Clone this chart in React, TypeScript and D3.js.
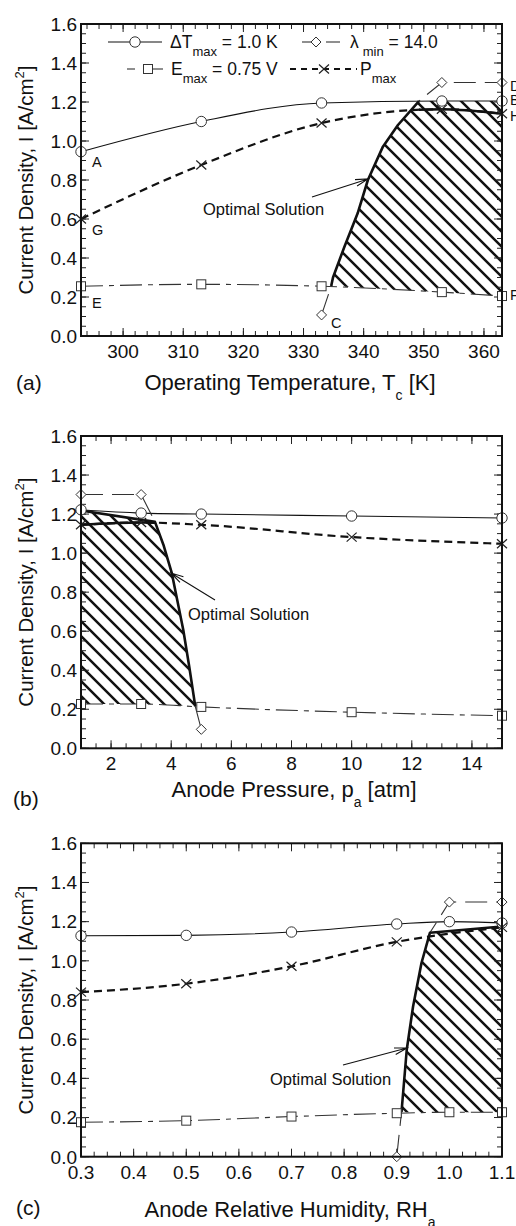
import * as d3 from "d3";

type Pt = [number, number];
const pts = (xs: number[], ys: number[]): Pt[] => xs.map((x, i) => [x, ys[i]] as Pt);

// (a) operating temperature sweep [K]
const tempK = [293, 313, 333, 353, 363];
const aDeltaT = [0.945, 1.1, 1.195, 1.205, 1.205];
const aEmax = [0.255, 0.265, 0.255, 0.225, 0.205];
const aPmax = [0.6, 0.877, 1.092, 1.163, 1.14];
const aLambdaX = [333, 353, 363];
const aLambda = [0.108, 1.3, 1.3];
const aBoundary: Pt[] = [
  [334.6, 0.256], [334.9, 0.3], [336.8, 0.458], [339.0, 0.629],
  [340.7, 0.8], [343.2, 0.971], [345.7, 1.082], [349.2, 1.205],
];

// (b) anode pressure sweep [atm]
const pressure = [1, 3, 5, 10, 15];
const bDeltaT = [1.222, 1.205, 1.2, 1.19, 1.18];
const bEmax = [0.227, 0.227, 0.212, 0.185, 0.167];
const bPmax = [1.145, 1.157, 1.145, 1.082, 1.048];
const bLambdaX = [1, 3, 5];
const bLambda = [1.3, 1.3, 0.097];
const bBoundary: Pt[] = [
  [1, 1.218], [3.46, 1.16], [3.74, 1.043], [4.02, 0.897],
  [4.4, 0.607], [4.6, 0.418], [4.8, 0.215],
];

// (c) anode relative humidity sweep
const humidity = [0.3, 0.5, 0.7, 0.9, 1.0, 1.1];
const cDeltaT = [1.128, 1.13, 1.147, 1.188, 1.2, 1.193];
const cEmax = [0.176, 0.184, 0.205, 0.222, 0.227, 0.227];
const cPmaxX = [0.3, 0.5, 0.7, 0.9, 1.1];
const cPmax = [0.84, 0.883, 0.972, 1.097, 1.171];
const cLambdaX = [0.9, 1.0, 1.1];
const cLambda = [0.0, 1.3, 1.3];
const cBoundary: Pt[] = [
  [0.909, 0.227], [0.919, 0.546], [0.931, 0.767], [0.947, 0.989],
  [0.963, 1.143], [1.1, 1.175],
];

const yTicks = [0, 0.2, 0.4, 0.6, 0.8, 1.0, 1.2, 1.4, 1.6];

const FONT = '"Liberation Sans", Arial, Helvetica, sans-serif';
const L = 81;
const R = 502;

interface Panel {
  id: string;
  top: number;
  bottom: number;
  xDomain: [number, number];
  major: number[];
  minor: number[];
  fmt: (v: number) => string;
  dT: Pt[];
  emax: Pt[];
  pmax: Pt[];
  lam: Pt[];
  lamPath: Pt[];
  boundary: Pt[];
  region: Pt[];
  pmaxSolid: [number, number] | null;
  arrowFrom: Pt;
  arrowTo: Pt;
  noteAt: Pt;
  label: string;
  labelAt: Pt;
  title: [string, string, string];
  titleAt: Pt;
  points: { text: string; at: Pt }[];
}

const range = (a: number, b: number, s: number) => d3.range(a, b + s / 1000, s);

const panels: Panel[] = [
  {
    id: "a",
    top: 24,
    bottom: 336,
    xDomain: [293, 363],
    major: range(300, 360, 10),
    minor: range(294, 362, 2),
    fmt: (v) => d3.format("d")(v),
    dT: pts(tempK, aDeltaT),
    emax: pts(tempK, aEmax),
    pmax: pts(tempK, aPmax),
    lam: pts(aLambdaX, aLambda),
    lamPath: [pts(aLambdaX, aLambda)[0], ...aBoundary, ...pts(aLambdaX, aLambda).slice(1)],
    boundary: aBoundary,
    region: [
      ...aBoundary,
      ...pts(tempK, aDeltaT).filter((p) => p[0] > 349.2),
      ...pts(tempK, aEmax).filter((p) => p[0] > 334.6).reverse(),
    ],
    pmaxSolid: [349.2, 363],
    arrowFrom: [312, 197],
    arrowTo: [368, 179],
    noteAt: [203, 215],
    label: "(a)",
    labelAt: [16, 390],
    title: ["Operating Temperature, T", "c", " [K]"],
    titleAt: [290, 390],
    points: [
      { text: "A", at: [92, 167] },
      { text: "G", at: [92, 235] },
      { text: "E", at: [92, 308] },
      { text: "C", at: [331, 328] },
      { text: "D", at: [510, 91] },
      { text: "B", at: [510, 105] },
      { text: "H", at: [510, 121] },
      { text: "F", at: [510, 300] },
    ],
  },
  {
    id: "b",
    top: 436,
    bottom: 748.3,
    xDomain: [1, 15],
    major: range(2, 14, 2),
    minor: range(1, 15, 0.5),
    fmt: (v) => d3.format("d")(v),
    dT: pts(pressure, bDeltaT),
    emax: pts(pressure, bEmax),
    pmax: pts(pressure, bPmax),
    lam: pts(bLambdaX, bLambda),
    lamPath: [...pts(bLambdaX, bLambda).slice(0, 2), ...bBoundary.slice(1), pts(bLambdaX, bLambda)[2]],
    boundary: bBoundary,
    region: [...bBoundary, ...pts(pressure, bEmax).filter((p) => p[0] < 4.8).reverse()],
    pmaxSolid: [1, 3.46],
    arrowFrom: [215, 600],
    arrowTo: [171, 573],
    noteAt: [188, 620],
    label: "(b)",
    labelAt: [13, 806],
    title: ["Anode Pressure, p", "a", " [atm]"],
    titleAt: [294, 797],
    points: [],
  },
  {
    id: "c",
    top: 843.3,
    bottom: 1156.7,
    xDomain: [0.3, 1.1],
    major: range(0.3, 1.1, 0.1),
    minor: range(0.3, 1.1, 0.025),
    fmt: (v) => d3.format(".1f")(v),
    dT: pts(humidity, cDeltaT),
    emax: pts(humidity, cEmax),
    pmax: pts(cPmaxX, cPmax),
    lam: pts(cLambdaX, cLambda),
    lamPath: [pts(cLambdaX, cLambda)[0], ...cBoundary.slice(0, 5), ...pts(cLambdaX, cLambda).slice(1)],
    boundary: cBoundary,
    region: [...cBoundary, ...pts(humidity, cEmax).filter((p) => p[0] > 0.909).reverse()],
    pmaxSolid: null,
    arrowFrom: [343, 1065],
    arrowTo: [407, 1048],
    noteAt: [270, 1085],
    label: "(c)",
    labelAt: [16, 1215],
    title: ["Anode Relative Humidity, RH", "a", ""],
    titleAt: [290, 1217],
    points: [],
  },
];

function Circle({ x, y }: { x: number; y: number }) {
  return <circle cx={x} cy={y} r={5.2} fill="#fff" stroke="#333" strokeWidth={1} />;
}
function Square({ x, y }: { x: number; y: number }) {
  return <rect x={x - 4.5} y={y - 4.5} width={9} height={9} fill="#fff" stroke="#333" strokeWidth={1} />;
}
function Diamond({ x, y }: { x: number; y: number }) {
  return (
    <path d={`M${x},${y - 5}L${x + 5},${y}L${x},${y + 5}L${x - 5},${y}Z`} fill="#fff" stroke="#333" strokeWidth={1} />
  );
}
function Cross({ x, y }: { x: number; y: number }) {
  return (
    <path d={`M${x - 5},${y - 4.5}L${x + 5},${y + 4.5}M${x - 5},${y + 4.5}L${x + 5},${y - 4.5}`} stroke="#222" strokeWidth={1.2} />
  );
}

function Arrow({ from, to }: { from: Pt; to: Pt }) {
  const ang = Math.atan2(to[1] - from[1], to[0] - from[0]);
  const len = 13;
  const a1 = ang + Math.PI - 0.26;
  const a2 = ang + Math.PI + 0.26;
  const d =
    `M${from[0]},${from[1]}L${to[0]},${to[1]}` +
    `M${to[0] + len * Math.cos(a1)},${to[1] + len * Math.sin(a1)}L${to[0]},${to[1]}` +
    `L${to[0] + len * Math.cos(a2)},${to[1] + len * Math.sin(a2)}`;
  return <path d={d} fill="none" stroke="#111" strokeWidth={1.1} />;
}

function PanelView({ p }: { p: Panel }) {
  const x = d3.scaleLinear().domain(p.xDomain).range([L, R]);
  const y = d3.scaleLinear().domain([0, 1.6]).range([p.bottom, p.top]);
  const smooth = d3.line<Pt>().x((d) => x(d[0])).y((d) => y(d[1])).curve(d3.curveMonotoneX);
  const straight = d3.line<Pt>().x((d) => x(d[0])).y((d) => y(d[1]));
  const closed = d3.line<Pt>().x((d) => x(d[0])).y((d) => y(d[1])).curve(d3.curveLinearClosed);
  const yMinor = range(0, 1.6, 0.05);
  const clipId = `solid-${p.id}`;

  return (
    <g>
      {p.pmaxSolid && (
        <clipPath id={clipId}>
          <rect x={x(p.pmaxSolid[0])} y={p.top} width={x(p.pmaxSolid[1]) - x(p.pmaxSolid[0])} height={p.bottom - p.top} />
        </clipPath>
      )}
      {/* optimal region */}
      <path d={closed(p.region) ?? ""} fill="url(#hatch)" stroke="none" />

      {/* ticks, all four sides */}
      {yMinor.map((v) => (
        <g key={`ym${v}`} stroke="#222" strokeWidth={1}>
          <line x1={L} x2={L + 5} y1={y(v)} y2={y(v)} />
          <line x1={R} x2={R - 5} y1={y(v)} y2={y(v)} />
        </g>
      ))}
      {yTicks.map((v) => (
        <g key={`yM${v}`} stroke="#222" strokeWidth={1}>
          <line x1={L} x2={L + 8} y1={y(v)} y2={y(v)} />
          <line x1={R} x2={R - 8} y1={y(v)} y2={y(v)} />
        </g>
      ))}
      {p.minor.map((v) => (
        <g key={`xm${v}`} stroke="#222" strokeWidth={1}>
          <line x1={x(v)} x2={x(v)} y1={p.bottom} y2={p.bottom - 5} />
          <line x1={x(v)} x2={x(v)} y1={p.top} y2={p.top + 5} />
        </g>
      ))}
      {p.major.map((v) => (
        <g key={`xM${v}`} stroke="#222" strokeWidth={1}>
          <line x1={x(v)} x2={x(v)} y1={p.bottom} y2={p.bottom - 8} />
          <line x1={x(v)} x2={x(v)} y1={p.top} y2={p.top + 8} />
        </g>
      ))}

      {/* series lines */}
      <path d={smooth(p.dT) ?? ""} fill="none" stroke="#111" strokeWidth={1.1} />
      <path d={smooth(p.emax) ?? ""} fill="none" stroke="#333" strokeWidth={1.1} strokeDasharray="22,6,5,6" />
      <path d={straight(p.lamPath) ?? ""} fill="none" stroke="#333" strokeWidth={1.1} strokeDasharray="22,9" />
      <path d={smooth(p.pmax) ?? ""} fill="none" stroke="#111" strokeWidth={2.2} strokeDasharray="8,5" />
      {p.pmaxSolid && (
        <path d={smooth(p.pmax) ?? ""} fill="none" stroke="#111" strokeWidth={2.4} clipPath={`url(#${clipId})`} />
      )}
      <path d={straight(p.boundary) ?? ""} fill="none" stroke="#111" strokeWidth={2.6} strokeLinejoin="round" />

      {/* markers */}
      {p.dT.map((d, i) => <Circle key={`c${i}`} x={x(d[0])} y={y(d[1])} />)}
      {p.emax.map((d, i) => <Square key={`s${i}`} x={x(d[0])} y={y(d[1])} />)}
      {p.lam.map((d, i) => <Diamond key={`d${i}`} x={x(d[0])} y={y(d[1])} />)}
      {p.pmax.map((d, i) => <Cross key={`x${i}`} x={x(d[0])} y={y(d[1])} />)}

      {/* frame */}
      <rect x={L} y={p.top} width={R - L} height={p.bottom - p.top} fill="none" stroke="#111" strokeWidth={2} />

      {/* tick labels */}
      {yTicks.map((v) => (
        <text key={`yl${v}`} x={L - 4} y={y(v)} dy="0.36em" textAnchor="end" fontSize={19}>
          {d3.format(".1f")(v)}
        </text>
      ))}
      {p.major.map((v) => (
        <text key={`xl${v}`} x={x(v)} y={p.bottom + 22} textAnchor="middle" fontSize={19}>
          {p.fmt(v)}
        </text>
      ))}

      {/* axis titles */}
      <text x={p.titleAt[0]} y={p.titleAt[1]} textAnchor="middle" fontSize={22}>
        {p.title[0]}
        <tspan fontSize={14} dy={10}>{p.title[1]}</tspan>
        <tspan dy={-10}>{p.title[2]}</tspan>
      </text>
      <text
        transform={`translate(33,${(p.top + p.bottom) / 2}) rotate(-90)`}
        textAnchor="middle"
        fontSize={20.5}
      >
        Current Density, I [A/cm
        <tspan fontSize={13} dy={-9}>2</tspan>
        <tspan dy={9}>]</tspan>
      </text>
      <text x={p.labelAt[0]} y={p.labelAt[1]} fontSize={21}>
        {p.label}
      </text>

      {/* annotation */}
      <Arrow from={p.arrowFrom} to={p.arrowTo} />
      <text x={p.noteAt[0]} y={p.noteAt[1]} fontSize={16.5}>
        Optimal Solution
      </text>
      {p.points.map((q) => (
        <text key={q.text} x={q.at[0]} y={q.at[1]} fontSize={14.5}>
          {q.text}
        </text>
      ))}
    </g>
  );
}

function Legend() {
  const r1 = 42;
  const r2 = 69;
  return (
    <g fontSize={17.5}>
      <line x1={108} x2={162} y1={r1} y2={r1} stroke="#111" strokeWidth={1.1} />
      <Circle x={135} y={r1} />
      <text x={170} y={r1 + 5.5}>
        ΔT<tspan fontSize={13} dy={8}>max</tspan>
        <tspan dy={-8}> = 1.0 K</tspan>
      </text>

      <line x1={302} x2={312} y1={r1} y2={r1} stroke="#333" strokeWidth={1.1} />
      <line x1={326} x2={340} y1={r1} y2={r1} stroke="#333" strokeWidth={1.1} />
      <Diamond x={316} y={r1} />
      <text x={350} y={r1 + 5.5}>
        λ<tspan fontSize={13} dy={8} dx={4}>min</tspan>
        <tspan dy={-8}> = 14.0</tspan>
      </text>

      <line x1={127} x2={135} y1={r2} y2={r2} stroke="#333" strokeWidth={1.1} />
      <line x1={146} x2={163} y1={r2} y2={r2} stroke="#333" strokeWidth={1.1} />
      <Square x={148} y={r2} />
      <text x={171} y={r2 + 5.5}>
        E<tspan fontSize={13} dy={8}>max</tspan>
        <tspan dy={-8}> = 0.75 V</tspan>
      </text>

      <line x1={290} x2={357} y1={r2} y2={r2} stroke="#111" strokeWidth={2.2} strokeDasharray="6,5" />
      <Cross x={324} y={r2} />
      <text x={360} y={r2 + 5.5}>
        P<tspan fontSize={13} dy={8}>max</tspan>
      </text>
    </g>
  );
}

export default function App() {
  return (
    <svg
      width={516}
      height={1226}
      viewBox="0 0 516 1226"
      style={{ position: "absolute", left: 0, top: 0, background: "#fff" }}
      fontFamily={FONT}
      fill="#111"
    >
      <defs>
        <pattern id="hatch" patternUnits="userSpaceOnUse" width={15} height={15}>
          <path d="M0,0L15,15M-2,13L2,17M13,-2L17,2" stroke="#111" strokeWidth={2.5} />
        </pattern>
      </defs>
      <rect width={516} height={1226} fill="#fff" />
      {panels.map((p) => (
        <PanelView key={p.id} p={p} />
      ))}
      <Legend />
    </svg>
  );
}
